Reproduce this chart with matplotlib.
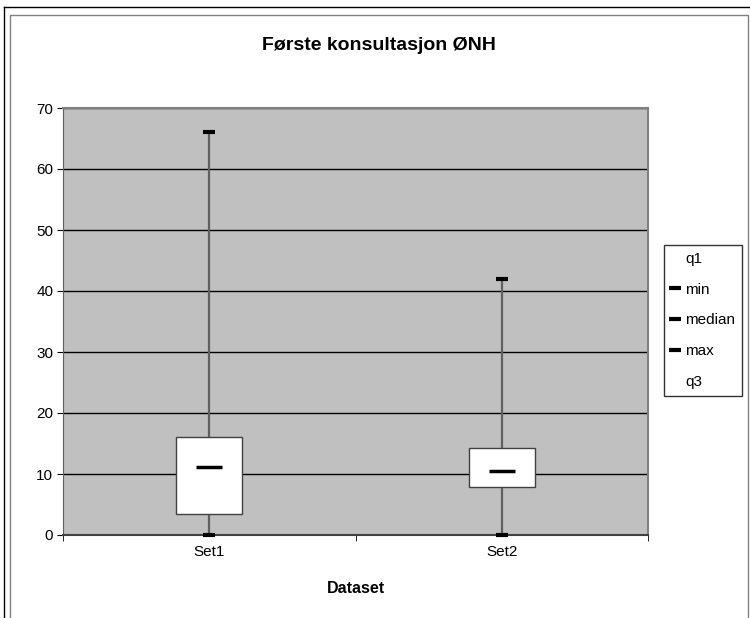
import matplotlib
matplotlib.use('Agg')
from matplotlib import pyplot as plt
from matplotlib.lines import Line2D
from matplotlib.patches import Rectangle

plt.rcParams['font.family'] = ['Liberation Sans', 'DejaVu Sans']

# data
categories = ['Set1', 'Set2']
q1 = [3.4, 7.9]
q3 = [16.1, 14.3]
minimum = [0, 0]
median = [11.1, 10.5]
maximum = [66.1, 42.0]

W, H = 750, 618
fig = plt.figure(figsize=(W / 100, H / 100), dpi=100)

# outer frame lines (Excel-like chart border)
fig.add_artist(Line2D([4 / W, 4 / W], [0, 1 - 7 / H], color='black', lw=1))
fig.add_artist(Line2D([4 / W, 1], [1 - 7 / H, 1 - 7 / H], color='black', lw=1))
fig.add_artist(Rectangle((10 / W, -0.1), (738 / W), 1.1 - 15 / H, fill=False,
                         edgecolor='#808080', lw=1))

ax = fig.add_axes([63 / W, (H - 535) / H, 585 / W, 427 / H])
ax.set_facecolor('#c0c0c0')

pos = list(range(1, len(categories) + 1))
box_w = 0.226

# grid lines
ax.set_axisbelow(True)
ax.yaxis.grid(True, color='black', lw=1)

# whiskers
ax.vlines(pos, minimum, q1, color='#606060', lw=1.6, zorder=2)
ax.vlines(pos, q3, maximum, color='#606060', lw=1.6, zorder=2)

# boxes
heights = [b - a for a, b in zip(q1, q3)]
ax.bar(pos, heights, bottom=q1, width=box_w, color='white',
       edgecolor='#404040', lw=1, zorder=3)

# min / median / max markers
ax.plot(pos, minimum, ls='none', marker='_', ms=8, mew=3, color='black',
        zorder=5, clip_on=False)
ax.plot(pos, median, ls='none', marker='_', ms=19, mew=2.5, color='black', zorder=5)
ax.plot(pos, maximum, ls='none', marker='_', ms=8, mew=3, color='black', zorder=5)

ax.set_xlim(0.5, len(categories) + 0.5)
ax.set_ylim(0, 70)
ax.set_yticks(range(0, 71, 10))
ax.set_xticks(pos)
ax.set_xticklabels(categories)
ax.set_xticks([0.5, 1.5, 2.5], minor=True)
ax.tick_params(axis='x', which='major', length=0, pad=7, labelsize=11)
ax.tick_params(axis='x', which='minor', length=4, color='black')
ax.tick_params(axis='y', length=4, color='black', labelsize=11, pad=3)

for side in ['top', 'right']:
    ax.spines[side].set_color('#808080')
    ax.spines[side].set_linewidth(1.5)
ax.spines['left'].set_color('#606060')
ax.spines['bottom'].set_color('#404040')
ax.spines['bottom'].set_linewidth(1.5)

# title is centred on the whole chart area, not the plot area
fig.text(379 / W, 1 - 46 / H, 'Første konsultasjon ØNH', fontsize=14,
         fontweight='bold', ha='center', va='center')
ax.set_xlabel('Dataset', fontsize=11.5, fontweight='bold', labelpad=16)

# legend
handles = [
    Line2D([], [], ls='none', marker=None),
    Line2D([], [], ls='none', marker='_', ms=8, mew=3, color='black'),
    Line2D([], [], ls='none', marker='_', ms=8, mew=3, color='black'),
    Line2D([], [], ls='none', marker='_', ms=8, mew=3, color='black'),
    Line2D([], [], ls='none', marker=None),
]
labels = ['q1', 'min', 'median', 'max', 'q3']
leg = fig.legend(handles, labels, loc='upper left',
                 bbox_to_anchor=(664 / W, 1 - 245 / H), fontsize=11,
                 frameon=True, fancybox=False, edgecolor='black',
                 handlelength=0.6, handletextpad=0.35, labelspacing=1.1,
                 borderpad=0.45, borderaxespad=0)
leg.get_frame().set_linewidth(1)

fig.savefig('out.png', dpi=100, facecolor='white')
